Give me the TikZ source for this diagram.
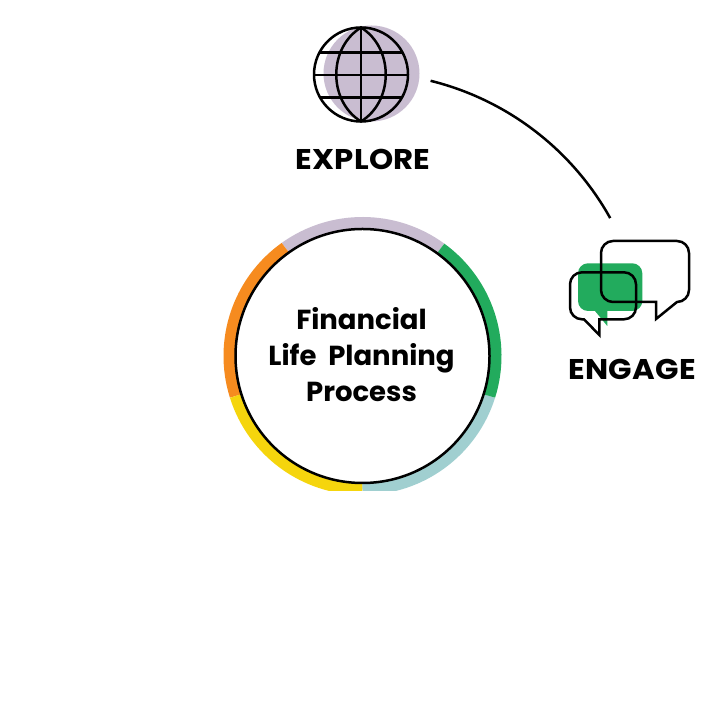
\documentclass[tikz,border=0pt]{standalone}
\usepackage{fontspec}
\setmainfont{Poppins}
\usetikzlibrary{calc}
\definecolor{cpurple}{HTML}{C9BDD1}
\definecolor{cgreen}{HTML}{22AB5D}
\definecolor{corange}{HTML}{F68B1F}
\definecolor{cyellow}{HTML}{F5D50D}
\definecolor{cteal}{HTML}{A0CFD0}
\tikzset{
  seg/.style={line width=12pt,line cap=butt},
  ink/.style={draw=black,line width=2.5pt,line join=miter},
  steplabel/.style={font=\fontsize{28.5}{28.5}\selectfont\bfseries\addfontfeatures{FakeStretch=1.08,LetterSpace=1},inner sep=0pt,anchor=base},
  centerlabel/.style={font=\fontsize{27.5}{36}\selectfont\bfseries,align=center,inner sep=0pt}
}
\begin{document}
\begin{tikzpicture}[x=1pt,y=1pt]
\useasboundingbox (0,0) rectangle (727,727);
\fill[white] (0,0) rectangle (727,727);
\coordinate (C) at (362.5,371);
% ring
\begin{scope}
\clip (200,236) rectangle (520,520);
\draw[seg,cpurple] ($(C)+(54:133)$) arc[start angle=54,end angle=125.5,radius=133];
\draw[seg,corange] ($(C)+(125.5:133)$) arc[start angle=125.5,end angle=197.5,radius=133];
\draw[seg,cyellow] ($(C)+(197.5:133)$) arc[start angle=197.5,end angle=270,radius=133];
\draw[seg,cteal] ($(C)+(270:133)$) arc[start angle=270,end angle=342.5,radius=133];
\draw[seg,cgreen] ($(C)+(342.5:133)$) arc[start angle=342.5,end angle=414,radius=133];
\end{scope}
\node[circle,draw=black,fill=white,line width=2.5pt,minimum size=254pt,inner sep=0pt] (hub) at (C) {};
\node[centerlabel] (title) at (361.5,372) {Financial\\Life\hspace{6pt} Planning\\Process};
% globe
\fill[cpurple] (371.5,653.5) circle[radius=48];
\coordinate (G) at (361,652.5);
\begin{scope}
\clip (G) circle[radius=47];
\draw[ink] (300,674.7) -- (420,674.7) (300,652) -- (420,652) (300,629.7) -- (420,629.7);
\end{scope}
\draw[ink] (G) circle[radius=47];
\draw[ink] (361,699.5) -- (361,605.5);
\draw[ink] (361,699.5) .. controls (394,679) and (394,626) .. (361,605.5)
           .. controls (328,626) and (328,679) .. (361,699.5) -- cycle;
\node[steplabel] (explore) at (363,557) {EXPLORE};
% connector
\coordinate (arcstart) at ($(C)+(76.1:283.5)$);
\draw[black,line width=2.5pt] (arcstart) arc[start angle=76.1,end angle=29.1,radius=283.5];
% bubbles
\fill[cgreen] (607.3,416) -- (607.3,401) -- (595,416) -- (588,416) arc[start angle=270,end angle=180,radius=10]
  -- (578,453.7) arc[start angle=180,end angle=90,radius=10] -- (632.3,463.7) arc[start angle=90,end angle=0,radius=10]
  -- (642.3,426) arc[start angle=0,end angle=-90,radius=10] -- cycle;
\draw[ink] (656,425) -- (656,408) -- (677,425) arc[start angle=-90,end angle=0,radius=12]
  -- (689,474) arc[start angle=0,end angle=90,radius=12] -- (613,486) arc[start angle=90,end angle=180,radius=12]
  -- (601,437) arc[start angle=180,end angle=270,radius=12] -- cycle;
\draw[ink] (599.3,407.7) -- (599.3,392) -- (584,407.7) -- (582,407.7) arc[start angle=270,end angle=180,radius=12]
  -- (570,442.7) arc[start angle=180,end angle=90,radius=12] -- (624,454.7) arc[start angle=90,end angle=0,radius=12]
  -- (636,419.7) arc[start angle=0,end angle=-90,radius=12] -- cycle;
\node[steplabel] (engage) at (632,347) {ENGAGE};
\end{tikzpicture}
\end{document}
